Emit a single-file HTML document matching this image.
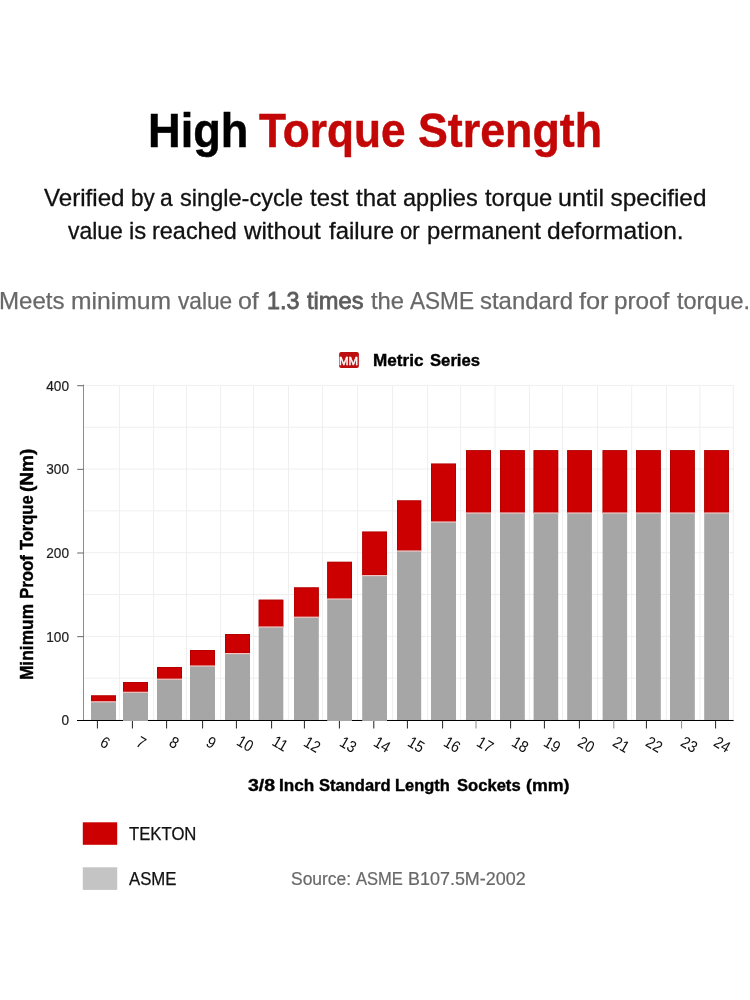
<!DOCTYPE html>
<html lang="en"><head><meta charset="utf-8"><title>High Torque Strength</title>
<style>
html,body{margin:0;padding:0;background:#fff}
body{width:750px;height:1000px;position:relative;overflow:hidden;font-family:'Liberation Sans',sans-serif}
.ln{position:absolute;left:0;margin:0;padding:0;width:750px;height:0;white-space:nowrap}
.ln span{position:absolute;top:0;display:block;transform-origin:0 0;white-space:nowrap}
.red{color:#c30606}
.med{color:#5c5c5c;-webkit-text-stroke:0.8px #5c5c5c}
.yl{position:absolute;width:40px;text-align:right;font-size:14.2px;line-height:14px;color:#1c1c1c;left:28.9px;-webkit-text-stroke:0.2px #1c1c1c;transform-origin:100% 50%;transform:scaleX(0.96)}
.xl{position:absolute;width:0;height:0}
.xl span{position:absolute;left:0;top:0;white-space:nowrap;font-size:16px;line-height:16px;color:#111;transform:translate(-50%,-50%) rotate(30deg) scaleX(0.9)}
#title{top:100px;font-size:48.41px;line-height:61px;font-weight:bold;color:#000;-webkit-text-stroke:0.5px currentColor;}
#s1{top:182px;font-size:24.3px;line-height:31px;font-weight:normal;color:#111;-webkit-text-stroke:0.3px currentColor;}
#s2{top:215px;font-size:24.3px;line-height:31px;font-weight:normal;color:#111;-webkit-text-stroke:0.3px currentColor;}
#g1{top:286px;font-size:24.0px;line-height:30px;font-weight:normal;color:#686868;-webkit-text-stroke:0.25px currentColor;}
#lg{top:349px;font-size:17.39px;line-height:22px;font-weight:bold;color:#000;-webkit-text-stroke:0.4px currentColor;}
#xt{top:774px;font-size:17.39px;line-height:22px;font-weight:bold;color:#000;-webkit-text-stroke:0.4px currentColor;}
#k1{top:822px;font-size:18.3px;line-height:23px;font-weight:normal;color:#111;-webkit-text-stroke:0.25px currentColor;}
#k2{top:867px;font-size:18.3px;line-height:23px;font-weight:normal;color:#111;-webkit-text-stroke:0.25px currentColor;}
#src{top:867px;font-size:18.3px;line-height:23px;font-weight:normal;color:#686868;-webkit-text-stroke:0.2px currentColor;}
#yt{font-size:18.26px;line-height:23px;font-weight:bold;color:#000;-webkit-text-stroke:0.4px currentColor;transform-origin:0 0;transform:translate(20.10px,679.1px) rotate(-90deg);top:0;}
#yt span{top:-5px}
#mm{top:354px;font-size:11.59px;line-height:15px;font-weight:normal;color:#fff;-webkit-text-stroke:0.45px currentColor;}

</style></head><body>
<svg width="750" height="1000" viewBox="0 0 750 1000" style="position:absolute;left:0;top:0">
<g fill="#efefef">
<rect x="83.5" y="719.50" width="650" height="1"/>
<rect x="83.5" y="677.67" width="650" height="1"/>
<rect x="83.5" y="635.85" width="650" height="1"/>
<rect x="83.5" y="594.02" width="650" height="1"/>
<rect x="83.5" y="552.20" width="650" height="1"/>
<rect x="83.5" y="510.38" width="650" height="1"/>
<rect x="83.5" y="468.55" width="650" height="1"/>
<rect x="83.5" y="426.72" width="650" height="1"/>
<rect x="83.5" y="384.90" width="650" height="1"/>
<rect x="118.90" y="385" width="1" height="335"/>
<rect x="153.10" y="385" width="1" height="335"/>
<rect x="186.00" y="385" width="1" height="335"/>
<rect x="220.10" y="385" width="1" height="335"/>
<rect x="253.10" y="385" width="1" height="335"/>
<rect x="288.00" y="385" width="1" height="335"/>
<rect x="322.10" y="385" width="1" height="335"/>
<rect x="357.10" y="385" width="1" height="335"/>
<rect x="392.10" y="385" width="1" height="335"/>
<rect x="427.10" y="385" width="1" height="335"/>
<rect x="460.10" y="385" width="1" height="335"/>
<rect x="494.50" y="385" width="1" height="335"/>
<rect x="528.90" y="385" width="1" height="335"/>
<rect x="562.10" y="385" width="1" height="335"/>
<rect x="597.00" y="385" width="1" height="335"/>
<rect x="631.20" y="385" width="1" height="335"/>
<rect x="665.90" y="385" width="1" height="335"/>
<rect x="699.40" y="385" width="1" height="335"/>
<rect x="732.80" y="385" width="1" height="335"/>
</g>
<rect x="83" y="384.6" width="1" height="336" fill="#8c8c8c"/>
<rect x="77.2" y="636.15" width="6.4" height="1" fill="#666"/>
<rect x="77.2" y="552.50" width="6.4" height="1" fill="#666"/>
<rect x="77.2" y="468.85" width="6.4" height="1" fill="#666"/>
<rect x="77.2" y="385.20" width="6.4" height="1" fill="#666"/>
<rect x="77" y="720" width="656.6" height="1" fill="#000"/>
<rect x="96.90" y="720.5" width="1" height="8" fill="#222"/>
<rect x="131.90" y="720.5" width="1" height="8" fill="#222"/>
<rect x="166.10" y="720.5" width="1" height="8" fill="#222"/>
<rect x="202.10" y="720.5" width="1" height="8" fill="#222"/>
<rect x="235.90" y="720.5" width="1" height="8" fill="#222"/>
<rect x="271.10" y="720.5" width="1" height="8" fill="#222"/>
<rect x="303.90" y="720.5" width="1" height="8" fill="#222"/>
<rect x="338.90" y="720.5" width="1" height="8" fill="#222"/>
<rect x="373.30" y="720.5" width="1" height="8" fill="#222"/>
<rect x="406.90" y="720.5" width="1" height="8" fill="#222"/>
<rect x="442.10" y="720.5" width="1" height="8" fill="#222"/>
<rect x="475.50" y="720.5" width="1" height="8" fill="#8a8a8a"/>
<rect x="510.10" y="720.5" width="1" height="8" fill="#222"/>
<rect x="543.90" y="720.5" width="1" height="8" fill="#222"/>
<rect x="578.90" y="720.5" width="1" height="8" fill="#222"/>
<rect x="613.30" y="720.5" width="1" height="8" fill="#8a8a8a"/>
<rect x="645.90" y="720.5" width="1" height="8" fill="#222"/>
<rect x="681.10" y="720.5" width="1" height="8" fill="#8a8a8a"/>
<rect x="715.10" y="720.5" width="1" height="8" fill="#222"/>
<rect x="91" y="701.8" width="25.00" height="18.20" fill="#a6a6a6"/>
<rect x="91" y="695.4" width="25.00" height="6.40" fill="#cc0000"/>
<rect x="91.4" y="695.8" width="24.20" height="5.40" fill="none" stroke="#a40000" stroke-width="0.8" stroke-opacity="0.75"/>
<rect x="91" y="701.20" width="25.00" height="1.2" fill="#f4c4c4"/>
<rect x="123" y="692.3" width="25.00" height="28.70" fill="#a6a6a6"/>
<rect x="123" y="682" width="25.00" height="10.30" fill="#cc0000"/>
<rect x="123.4" y="682.4" width="24.20" height="9.30" fill="none" stroke="#a40000" stroke-width="0.8" stroke-opacity="0.75"/>
<rect x="123" y="691.70" width="25.00" height="1.2" fill="#f4c4c4"/>
<rect x="157" y="679.2" width="25.00" height="40.80" fill="#a6a6a6"/>
<rect x="157" y="667" width="25.00" height="12.20" fill="#cc0000"/>
<rect x="157.4" y="667.4" width="24.20" height="11.20" fill="none" stroke="#a40000" stroke-width="0.8" stroke-opacity="0.75"/>
<rect x="157" y="678.60" width="25.00" height="1.2" fill="#f4c4c4"/>
<rect x="190" y="666" width="25.00" height="54.00" fill="#a6a6a6"/>
<rect x="190" y="650" width="25.00" height="16.00" fill="#cc0000"/>
<rect x="190.4" y="650.4" width="24.20" height="15.00" fill="none" stroke="#a40000" stroke-width="0.8" stroke-opacity="0.75"/>
<rect x="190" y="665.40" width="25.00" height="1.2" fill="#f4c4c4"/>
<rect x="225" y="653.6" width="25.00" height="66.40" fill="#a6a6a6"/>
<rect x="225" y="634" width="25.00" height="19.60" fill="#cc0000"/>
<rect x="225.4" y="634.4" width="24.20" height="18.60" fill="none" stroke="#a40000" stroke-width="0.8" stroke-opacity="0.75"/>
<rect x="225" y="653.00" width="25.00" height="1.2" fill="#f4c4c4"/>
<rect x="258.7" y="627" width="24.60" height="93.00" fill="#a6a6a6"/>
<rect x="258.7" y="599.7" width="24.60" height="27.30" fill="#cc0000"/>
<rect x="259.09999999999997" y="600.1" width="23.80" height="26.30" fill="none" stroke="#a40000" stroke-width="0.8" stroke-opacity="0.75"/>
<rect x="258.7" y="626.40" width="24.60" height="1.2" fill="#f4c4c4"/>
<rect x="294" y="617.2" width="24.80" height="102.80" fill="#a6a6a6"/>
<rect x="294" y="587.4" width="24.80" height="29.80" fill="#cc0000"/>
<rect x="294.4" y="587.8" width="24.00" height="28.80" fill="none" stroke="#a40000" stroke-width="0.8" stroke-opacity="0.75"/>
<rect x="294" y="616.60" width="24.80" height="1.2" fill="#f4c4c4"/>
<rect x="327.2" y="599" width="24.80" height="122.00" fill="#a6a6a6"/>
<rect x="327.2" y="561.8" width="24.80" height="37.20" fill="#cc0000"/>
<rect x="327.59999999999997" y="562.1999999999999" width="24.00" height="36.20" fill="none" stroke="#a40000" stroke-width="0.8" stroke-opacity="0.75"/>
<rect x="327.2" y="598.40" width="24.80" height="1.2" fill="#f4c4c4"/>
<rect x="362.2" y="575.6" width="24.80" height="145.40" fill="#a6a6a6"/>
<rect x="362.2" y="531.6" width="24.80" height="44.00" fill="#cc0000"/>
<rect x="362.59999999999997" y="532.0" width="24.00" height="43.00" fill="none" stroke="#a40000" stroke-width="0.8" stroke-opacity="0.75"/>
<rect x="362.2" y="575.00" width="24.80" height="1.2" fill="#f4c4c4"/>
<rect x="397" y="551" width="24.20" height="169.00" fill="#a6a6a6"/>
<rect x="397" y="500.4" width="24.20" height="50.60" fill="#cc0000"/>
<rect x="397.4" y="500.79999999999995" width="23.40" height="49.60" fill="none" stroke="#a40000" stroke-width="0.8" stroke-opacity="0.75"/>
<rect x="397" y="550.40" width="24.20" height="1.2" fill="#f4c4c4"/>
<rect x="431" y="522" width="25.00" height="198.00" fill="#a6a6a6"/>
<rect x="431" y="463.6" width="25.00" height="58.40" fill="#cc0000"/>
<rect x="431.4" y="464.0" width="24.20" height="57.40" fill="none" stroke="#a40000" stroke-width="0.8" stroke-opacity="0.75"/>
<rect x="431" y="521.40" width="25.00" height="1.2" fill="#f4c4c4"/>
<rect x="466" y="513" width="25.00" height="207.00" fill="#a6a6a6"/>
<rect x="466" y="450.2" width="25.00" height="62.80" fill="#cc0000"/>
<rect x="466.4" y="450.59999999999997" width="24.20" height="61.80" fill="none" stroke="#a40000" stroke-width="0.8" stroke-opacity="0.75"/>
<rect x="466" y="512.40" width="25.00" height="1.2" fill="#f4c4c4"/>
<rect x="500" y="513" width="24.80" height="207.00" fill="#a6a6a6"/>
<rect x="500" y="450.2" width="24.80" height="62.80" fill="#cc0000"/>
<rect x="500.4" y="450.59999999999997" width="24.00" height="61.80" fill="none" stroke="#a40000" stroke-width="0.8" stroke-opacity="0.75"/>
<rect x="500" y="512.40" width="24.80" height="1.2" fill="#f4c4c4"/>
<rect x="533.6" y="513" width="24.60" height="207.00" fill="#a6a6a6"/>
<rect x="533.6" y="450.2" width="24.60" height="62.80" fill="#cc0000"/>
<rect x="534.0" y="450.59999999999997" width="23.80" height="61.80" fill="none" stroke="#a40000" stroke-width="0.8" stroke-opacity="0.75"/>
<rect x="533.6" y="512.40" width="24.60" height="1.2" fill="#f4c4c4"/>
<rect x="567.2" y="513" width="24.70" height="207.00" fill="#a6a6a6"/>
<rect x="567.2" y="450.2" width="24.70" height="62.80" fill="#cc0000"/>
<rect x="567.6" y="450.59999999999997" width="23.90" height="61.80" fill="none" stroke="#a40000" stroke-width="0.8" stroke-opacity="0.75"/>
<rect x="567.2" y="512.40" width="24.70" height="1.2" fill="#f4c4c4"/>
<rect x="602.6" y="513" width="24.50" height="207.00" fill="#a6a6a6"/>
<rect x="602.6" y="450.2" width="24.50" height="62.80" fill="#cc0000"/>
<rect x="603.0" y="450.59999999999997" width="23.70" height="61.80" fill="none" stroke="#a40000" stroke-width="0.8" stroke-opacity="0.75"/>
<rect x="602.6" y="512.40" width="24.50" height="1.2" fill="#f4c4c4"/>
<rect x="636" y="513" width="24.80" height="207.00" fill="#a6a6a6"/>
<rect x="636" y="450.2" width="24.80" height="62.80" fill="#cc0000"/>
<rect x="636.4" y="450.59999999999997" width="24.00" height="61.80" fill="none" stroke="#a40000" stroke-width="0.8" stroke-opacity="0.75"/>
<rect x="636" y="512.40" width="24.80" height="1.2" fill="#f4c4c4"/>
<rect x="670" y="513" width="24.80" height="207.00" fill="#a6a6a6"/>
<rect x="670" y="450.2" width="24.80" height="62.80" fill="#cc0000"/>
<rect x="670.4" y="450.59999999999997" width="24.00" height="61.80" fill="none" stroke="#a40000" stroke-width="0.8" stroke-opacity="0.75"/>
<rect x="670" y="512.40" width="24.80" height="1.2" fill="#f4c4c4"/>
<rect x="704.2" y="513" width="24.80" height="207.00" fill="#a6a6a6"/>
<rect x="704.2" y="450.2" width="24.80" height="62.80" fill="#cc0000"/>
<rect x="704.6" y="450.59999999999997" width="24.00" height="61.80" fill="none" stroke="#a40000" stroke-width="0.8" stroke-opacity="0.75"/>
<rect x="704.2" y="512.40" width="24.80" height="1.2" fill="#f4c4c4"/>
<rect x="82.8" y="822.3" width="34.4" height="22.5" fill="#cc0000"/>
<rect x="82.8" y="867.3" width="34.4" height="22.6" fill="#c4c4c4"/>
<rect x="339.1" y="352.1" width="19.8" height="15.8" rx="2" ry="2" fill="#bc0e0e"/>
</svg>
<h1 class="ln" id="title"><span style="left:147.6px;transform:scaleX(0.9337)">High</span> <span class="red" style="left:258.77px;transform:scaleX(0.9134)">Torque</span> <span class="red" style="left:418.14px;transform:scaleX(0.9246)">Strength</span></h1>
<p class="ln" id="s1"><span style="left:44.4px;transform:scaleX(0.9937)">Verified</span> <span style="left:130.61px;transform:scaleX(0.9237)">by</span> <span style="left:160.06px;transform:scaleX(0.9412)">a</span> <span style="left:180.11px;transform:scaleX(0.9705)">single-cycle</span> <span style="left:310.35px;transform:scaleX(0.9846)">test</span> <span style="left:356.35px;transform:scaleX(0.9888)">that</span> <span style="left:403.03px;transform:scaleX(0.9701)">applies</span> <span style="left:485.16px;transform:scaleX(0.9771)">torque</span> <span style="left:558.05px;transform:scaleX(1.0313)">until</span> <span style="left:610.5px;transform:scaleX(1.0)">specified</span></p>
<p class="ln" id="s2"><span style="left:68.0px;transform:scaleX(0.9432)">value</span> <span style="left:128.52px;transform:scaleX(0.9836)">is</span> <span style="left:152.15px;transform:scaleX(0.9647)">reached</span> <span style="left:244.25px;transform:scaleX(0.9968)">without</span> <span style="left:328.75px;transform:scaleX(0.9846)">failure</span> <span style="left:399.69px;transform:scaleX(0.9086)">or</span> <span style="left:427.13px;transform:scaleX(0.9795)">permanent</span> <span style="left:546.99px;transform:scaleX(1.0121)">deformation.</span></p>
<p class="ln" id="g1"><span style="left:-0.76px;transform:scaleX(1.004)">Meets</span> <span style="left:70.86px;transform:scaleX(1.0286)">minimum</span> <span style="left:177.6px;transform:scaleX(0.9451)">value</span> <span style="left:237.96px;transform:scaleX(1.039)">of</span> <span class="med" style="left:266.54px;transform:scaleX(0.9728)">1.3</span> <span class="med" style="left:307.0px;transform:scaleX(0.9868)">times</span> <span style="left:370.75px;transform:scaleX(0.9922)">the</span> <span style="left:410.0px;transform:scaleX(0.9403)">ASME</span> <span style="left:479.9px;transform:scaleX(0.9967)">standard</span> <span style="left:578.74px;transform:scaleX(1.0545)">for</span> <span style="left:614.49px;transform:scaleX(1.0093)">proof</span> <span style="left:677.36px;transform:scaleX(0.9766)">torque.</span></p>
<div class="ln" id="lg"><span style="left:373.02px;transform:scaleX(0.9849)">Metric</span> <span style="left:429.76px;transform:scaleX(0.9592)">Series</span></div>
<div class="ln" id="xt"><span style="left:247.72px;transform:scaleX(1.1234)">3/8</span> <span style="left:279.01px;transform:scaleX(0.9867)">Inch</span> <span style="left:318.76px;transform:scaleX(0.9514)">Standard</span> <span style="left:395.45px;transform:scaleX(0.9464)">Length</span> <span style="left:456.76px;transform:scaleX(0.9545)">Sockets</span> <span style="left:525.63px;transform:scaleX(1.0244)">(mm)</span></div>
<div class="ln" id="k1"><span style="left:128.97px;transform:scaleX(0.9135)">TEKTON</span></div>
<div class="ln" id="k2"><span style="left:129.2px;transform:scaleX(0.9171)">ASME</span></div>
<div class="ln" id="src"><span style="left:290.68px;transform:scaleX(0.9547)">Source:</span> <span style="left:356.0px;transform:scaleX(0.9054)">ASME</span> <span style="left:407.53px;transform:scaleX(0.9813)">B107.5M-2002</span></div>
<div class="ln" id="yt"><span style="left:-0.95px;transform:scaleX(0.9521)">Minimum</span> <span style="left:79.88px;transform:scaleX(0.9234)">Proof</span> <span style="left:128.6px;transform:scaleX(0.905)">Torque</span> <span style="left:186.52px;transform:scaleX(1.0425)">(Nm)</span></div>
<div class="ln" id="mm"><span style="left:339.46px;transform:scaleX(0.9915)">MM</span></div>
<div class="yl" style="top:713px">0</div>
<div class="yl" style="top:630px">100</div>
<div class="yl" style="top:546px">200</div>
<div class="yl" style="top:462px">300</div>
<div class="yl" style="top:379px">400</div>
<div class="xl" style="left:105.2px;top:742.5px"><span>6</span></div>
<div class="xl" style="left:141.2px;top:743.2px"><span>7</span></div>
<div class="xl" style="left:173.6px;top:742.8px"><span>8</span></div>
<div class="xl" style="left:211px;top:742.5px"><span>9</span></div>
<div class="xl" style="left:244.7px;top:744.2px"><span>10</span></div>
<div class="xl" style="left:279.7px;top:744px"><span>11</span></div>
<div class="xl" style="left:312.3px;top:744.5px"><span>12</span></div>
<div class="xl" style="left:347.5px;top:744.5px"><span>13</span></div>
<div class="xl" style="left:382.2px;top:744.5px"><span>14</span></div>
<div class="xl" style="left:415.8px;top:744.5px"><span>15</span></div>
<div class="xl" style="left:451.5px;top:744.5px"><span>16</span></div>
<div class="xl" style="left:485px;top:744.5px"><span>17</span></div>
<div class="xl" style="left:519.5px;top:744.5px"><span>18</span></div>
<div class="xl" style="left:552.2px;top:744.5px"><span>19</span></div>
<div class="xl" style="left:586.2px;top:744.5px"><span>20</span></div>
<div class="xl" style="left:620.5px;top:744.5px"><span>21</span></div>
<div class="xl" style="left:653.7px;top:744.5px"><span>22</span></div>
<div class="xl" style="left:688.8px;top:744.5px"><span>23</span></div>
<div class="xl" style="left:722.2px;top:744.5px"><span>24</span></div>
</body></html>
